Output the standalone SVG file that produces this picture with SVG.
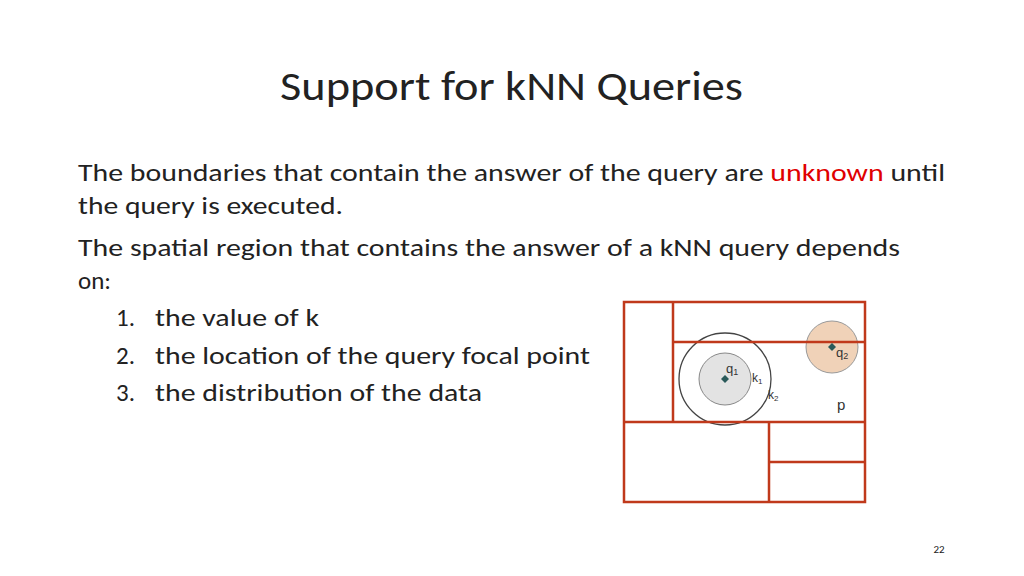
<svg xmlns="http://www.w3.org/2000/svg" width="1024" height="576" viewBox="0 0 1024 576">
<style>
.t{font-family:"Calibri","Carlito","Liberation Sans",sans-serif;fill:#222}
.b{font-size:25px}
.r{stroke:#c0391b;stroke-width:2.5;fill:none}
.s{font-family:"Liberation Sans",Arial,sans-serif;fill:#333}
</style>
<rect width="1024" height="576" fill="#fff"/>
<text class="t" x="280" y="100" font-size="41" fill="#333" textLength="463" lengthAdjust="spacingAndGlyphs">Support for kNN Queries</text>
<text class="t b" x="78" y="181" textLength="867" lengthAdjust="spacingAndGlyphs">The boundaries that contain the answer of the query are <tspan fill="#e00000">unknown</tspan> until</text>
<text class="t b" x="78" y="214" textLength="265" lengthAdjust="spacingAndGlyphs">the query is executed.</text>
<text class="t b" x="78" y="256" textLength="822" lengthAdjust="spacingAndGlyphs">The spatial region that contains the answer of a kNN query depends</text>
<text class="t b" x="78" y="289">on:</text>
<text class="t b" x="116" y="326">1.</text><text class="t b" x="155" y="326" textLength="164" lengthAdjust="spacingAndGlyphs">the value of k</text>
<text class="t b" x="116" y="364">2.</text><text class="t b" x="155" y="364" textLength="435" lengthAdjust="spacingAndGlyphs">the location of the query focal point</text>
<text class="t b" x="116" y="401">3.</text><text class="t b" x="155" y="401" textLength="327" lengthAdjust="spacingAndGlyphs">the distribution of the data</text>
<g id="figure">
<circle cx="725" cy="379" r="46" fill="none" stroke="#444" stroke-width="1.3"/>
<circle cx="725" cy="379" r="26" fill="#e3e3e3" stroke="#888" stroke-width="1"/>
<circle cx="832" cy="347" r="26" fill="#f0d2b8" stroke="#999" stroke-width="1"/>
<rect class="r" x="624" y="302" width="241" height="200"/>
<path class="r" d="M673 302V422M673 342H865M624 422H865M769 422V502M769 462H865"/>
<path d="M725 375l4 4-4 4-4-4z M832 343l4 4-4 4-4-4z" fill="#2a5a5a"/>
<text class="s" x="726" y="373" font-size="13">q<tspan font-size="9" dy="2">1</tspan></text>
<text class="s" x="752" y="382" font-size="12">k<tspan font-size="8" dy="2">1</tspan></text>
<text class="s" x="768" y="399" font-size="12">k<tspan font-size="8" dy="2">2</tspan></text>
<text class="s" x="836" y="357" font-size="13">q<tspan font-size="9" dy="2">2</tspan></text>
<text class="s" x="837" y="410" font-size="15">p</text>
</g>
<text class="t" x="939" y="553" font-size="11" text-anchor="middle" fill="#888">22</text>
</svg>
